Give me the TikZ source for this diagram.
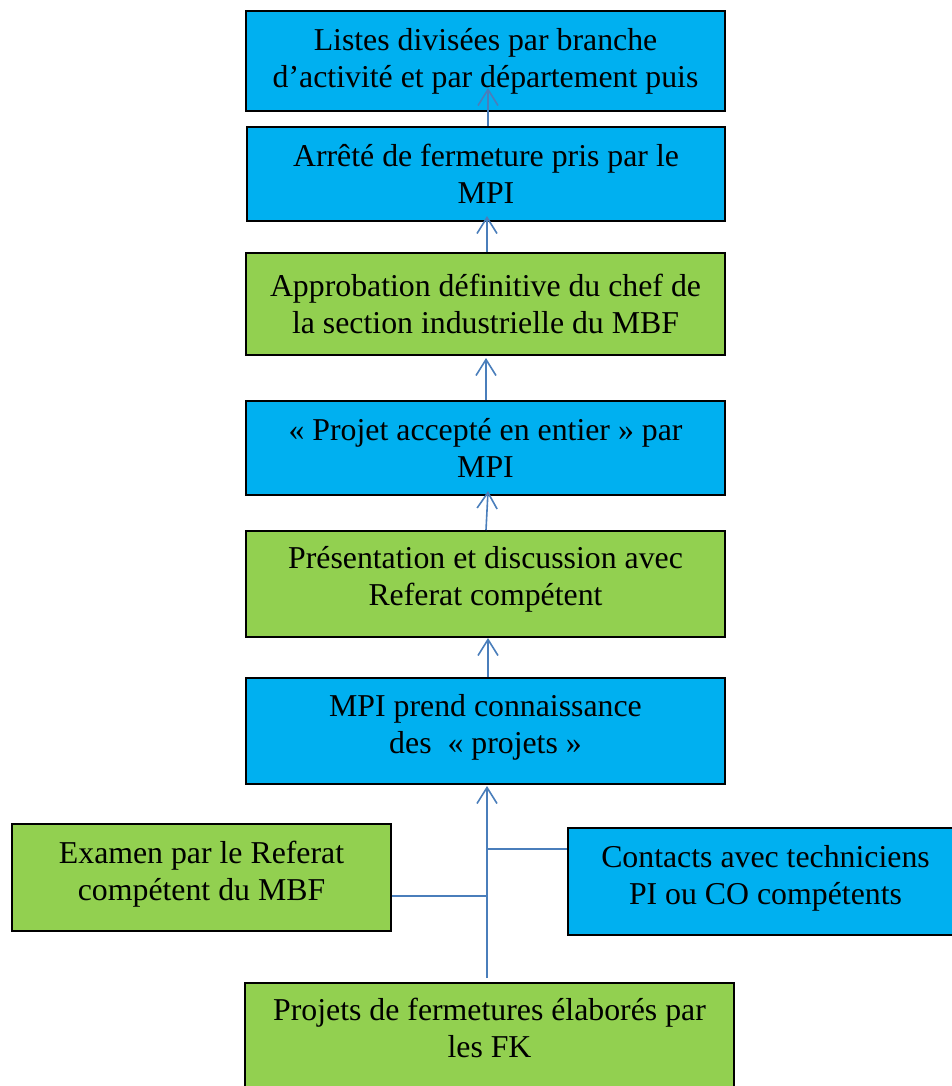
\documentclass[tikz,border=0pt]{standalone}
\usepackage{fontspec}
\setmainfont{Liberation Serif}
\usetikzlibrary{arrows.meta}
\definecolor{boxblue}{HTML}{00B0F0}
\definecolor{boxgreen}{HTML}{92D050}
\definecolor{arrowblue}{HTML}{4A7EBB}
\begin{document}
\begin{tikzpicture}[x=1pt,y=-1pt,
  box/.style={draw=black,line width=2pt,rectangle,align=center,inner sep=0pt,
    font=\fontsize{31.8}{37}\selectfont,anchor=north west},
  bluebox/.style={box,fill=boxblue},
  greenbox/.style={box,fill=boxgreen},
  arr/.style={draw=arrowblue,line width=1.6pt,-{Straight Barb[length=16pt,width=20pt]}},
  link/.style={draw=arrowblue,line width=1.6pt}]
\useasboundingbox (0,0) rectangle (952,1086);
\node[bluebox,minimum width=479pt,minimum height=100pt] (b1) at (245,10)
  {Listes divisées par branche\\d’activité et par département puis};
\node[bluebox,minimum width=478pt,minimum height=94pt] (b2) at (246,126)
  {Arrêté de fermeture pris par le\\MPI};
\node[greenbox,minimum width=479pt,minimum height=102pt] (b3) at (245,252)
  {Approbation définitive du chef de\\la section industrielle du MBF};
\node[bluebox,minimum width=479pt,minimum height=94pt] (b4) at (245,400)
  {« Projet accepté en entier » par\\MPI};
\node[greenbox,minimum width=479pt,minimum height=106pt,text depth=16pt] (b5) at (245,530)
  {Présentation et discussion avec\\Referat compétent};
\node[bluebox,minimum width=479pt,minimum height=106pt,text depth=14pt] (b6) at (245,677)
  {MPI prend connaissance\\des\ \ « projets »};
\node[greenbox,minimum width=379pt,minimum height=107pt,text depth=14pt] (b7) at (11,823)
  {Examen par le Referat\\compétent du MBF};
\node[bluebox,minimum width=395pt,minimum height=107pt,text depth=14pt] (b8) at (567,827)
  {Contacts avec techniciens\\PI ou CO compétents};
\node[greenbox,minimum width=489pt,minimum height=112pt,text depth=22pt] (b9) at (244,982)
  {Projets de fermetures élaborés par\\les FK};
% vertical arrows
\coordinate (t1) at (488,88);
\draw[arr] (b2.north -| t1) -- (t1);
\coordinate (t2) at (487,216);
\draw[arr] (b3.north -| t2) -- (t2);
\coordinate (t3) at (486,358);
\draw[arr] (b4.north -| t3) -- (t3);
\coordinate (t4a) at (486,530);
\coordinate (t4) at (488,491);
\draw[arr] (t4a) -- (t4);
\coordinate (t5) at (488,638);
\draw[arr] (b6.north -| t5) -- (t5);
% trunk
\coordinate (s) at (487,978);
\coordinate (t6) at (487,786);
\draw[arr] (s) -- (t6);
\coordinate (j1) at (487,896);
\coordinate (j2) at (488,849);
\draw[link] (b7.east |- j1) -- (j1);
\draw[link] (j2) -- (b8.west |- j2);
\end{tikzpicture}
\end{document}
